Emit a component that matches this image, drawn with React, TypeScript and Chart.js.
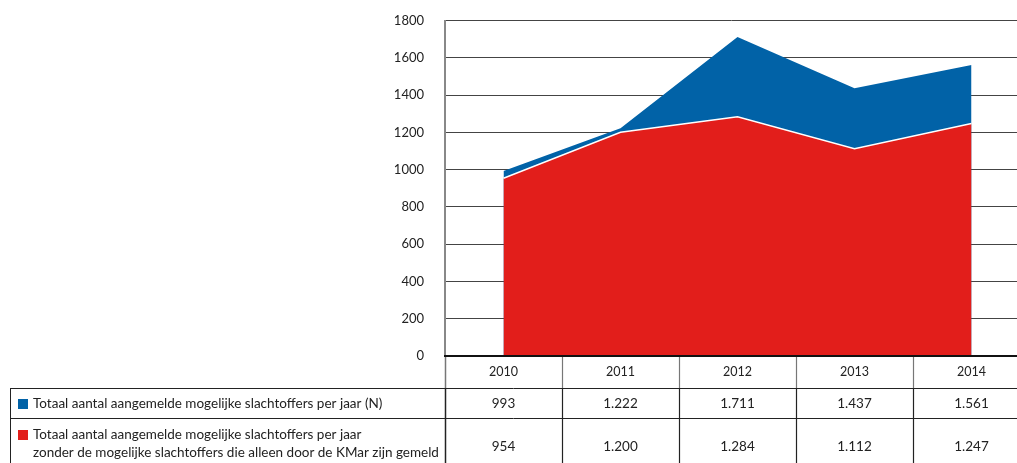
import React, { useEffect, useRef } from "react";
import { Chart, registerables } from "chart.js";

Chart.register(...registerables);

const years = [2010, 2011, 2012, 2013, 2014];
const yearLabels = ["2010", "2011", "2012", "2013", "2014"];
const totalValues = [993, 1222, 1711, 1437, 1561];
const withoutKMarValues = [954, 1200, 1284, 1112, 1247];
const totalLabels = ["993", "1.222", "1.711", "1.437", "1.561"];
const withoutKMarLabels = ["954", "1.200", "1.284", "1.112", "1.247"];
const totalName = ["Totaal aantal aangemelde mogelijke slachtoffers per jaar (N)"];
const withoutKMarName = [
  "Totaal aantal aangemelde mogelijke slachtoffers per jaar",
  "zonder de mogelijke slachtoffers die alleen door de KMar zijn gemeld",
];
const yMin = 0;
const yMax = 1800;
const yStep = 200;

const BLUE = "#0162a7";
const RED = "#e21e1b";
const FONT = "Lato, 'Open Sans', sans-serif";

const tablePlugin = {
  id: "dataTable",
  afterDraw(chart: any) {
    const ctx = chart.ctx as CanvasRenderingContext2D;
    const xs = chart.scales.x;
    const area = chart.chartArea;
    const top = area.bottom;
    const row1 = top + 32;
    const row2 = top + 62;
    const end = chart.height + 2;
    const leftEdge = 10;
    ctx.save();
    ctx.strokeStyle = "#222";
    ctx.lineWidth = 1;
    [row1, row2].forEach((y) => {
      ctx.beginPath();
      ctx.moveTo(leftEdge, Math.round(y) + 0.5);
      ctx.lineTo(area.right, Math.round(y) + 0.5);
      ctx.stroke();
    });
    const edges = years.map((y) => xs.getPixelForValue(y - 0.5));
    edges.push(xs.getPixelForValue(years[years.length - 1] + 0.5));
    edges.forEach((x, i) => {
      const px = Math.round(x) + 0.5;
      ctx.strokeStyle = "#777";
      ctx.lineWidth = i === 0 ? 1.5 : 1.2;
      ctx.beginPath();
      ctx.moveTo(px, top);
      ctx.lineTo(px, row1);
      ctx.stroke();
      ctx.strokeStyle = "#222";
      ctx.beginPath();
      ctx.moveTo(px, row1);
      ctx.lineTo(px, end);
      ctx.stroke();
    });
    ctx.strokeStyle = "#222";
    ctx.lineWidth = 1;
    ctx.beginPath();
    ctx.moveTo(leftEdge + 0.5, row1);
    ctx.lineTo(leftEdge + 0.5, end);
    ctx.stroke();
    ctx.strokeStyle = "#111";
    ctx.lineWidth = 2;
    ctx.beginPath();
    ctx.moveTo(area.left - 1, top);
    ctx.lineTo(area.right, top);
    ctx.stroke();

    ctx.fillStyle = "#222";
    ctx.textAlign = "center";
    ctx.textBaseline = "middle";
    years.forEach((y, i) => {
      const cx = xs.getPixelForValue(y);
      ctx.font = `12.5px ${FONT}`;
      ctx.fillText(yearLabels[i], cx, top + 16);
      ctx.font = `13.5px ${FONT}`;
      ctx.fillText(totalLabels[i], cx, row1 + 16);
      ctx.fillText(withoutKMarLabels[i], cx, row2 + 29);
    });
    ctx.textAlign = "left";
    ctx.font = `13.5px ${FONT}`;
    ctx.fillStyle = BLUE;
    ctx.fillRect(18, row1 + 11, 10, 10);
    ctx.fillStyle = "#222";
    ctx.fillText(totalName[0], 33, row1 + 16);
    ctx.fillStyle = RED;
    ctx.fillRect(18, row2 + 12, 10, 10);
    ctx.fillStyle = "#222";
    ctx.fillText(withoutKMarName[0], 33, row2 + 17);
    ctx.fillText(withoutKMarName[1], 33, row2 + 35);
    ctx.restore();
  },
};

export default function App() {
  const ref = useRef<HTMLCanvasElement | null>(null);
  useEffect(() => {
    if (!ref.current) return;
    const plotLeft = 445;
    const colWidth = 117;
    const totalWidth = 1017;
    const xMin = years[0] - 0.5;
    const xMax = xMin + (totalWidth - plotLeft) / colWidth;
    const chart = new Chart(ref.current, {
      type: "line",
      data: {
        datasets: [
          {
            label: totalName[0],
            data: years.map((y, i) => ({ x: y, y: totalValues[i] })),
            backgroundColor: BLUE,
            borderColor: BLUE,
            borderWidth: 0,
            fill: "origin",
            pointRadius: 0,
            tension: 0,
            order: 2,
          },
          {
            label: withoutKMarName.join(" "),
            data: years.map((y, i) => ({ x: y, y: withoutKMarValues[i] })),
            backgroundColor: RED,
            borderColor: "#ffffff",
            borderWidth: 1.5,
            fill: "origin",
            pointRadius: 0,
            tension: 0,
            order: 1,
          },
        ],
      },
      options: {
        animation: false,
        responsive: false,
        devicePixelRatio: 1,
        layout: { padding: { left: 0, right: 0, top: 20.5, bottom: 107 } },
        plugins: { legend: { display: false }, tooltip: { enabled: false } },
        scales: {
          x: {
            type: "linear",
            min: xMin,
            max: xMax,
            display: false,
          },
          y: {
            min: yMin,
            max: yMax,
            afterFit: (scale: any) => {
              scale.width = plotLeft;
              scale.paddingTop = 0;
              scale.paddingBottom = 0;
              scale.paddingLeft = 0;
              scale.paddingRight = 0;
            },
            ticks: {
              stepSize: yStep,
              padding: 21,
              color: "#222",
              font: { family: FONT, size: 13 },
              callback: (v: any) => String(v),
            },
            grid: {
              color: "#444",
              lineWidth: 1,
              drawTicks: false,
            },
            border: { display: true, color: "#888", width: 2 },
          },
        },
      },
      plugins: [tablePlugin],
    });
    return () => chart.destroy();
  }, []);
  return (
    <div style={{ position: "fixed", left: 0, top: 0, width: 1017, height: 463, background: "#fff" }}>
      <canvas ref={ref} width={1017} height={463} />
    </div>
  );
}
